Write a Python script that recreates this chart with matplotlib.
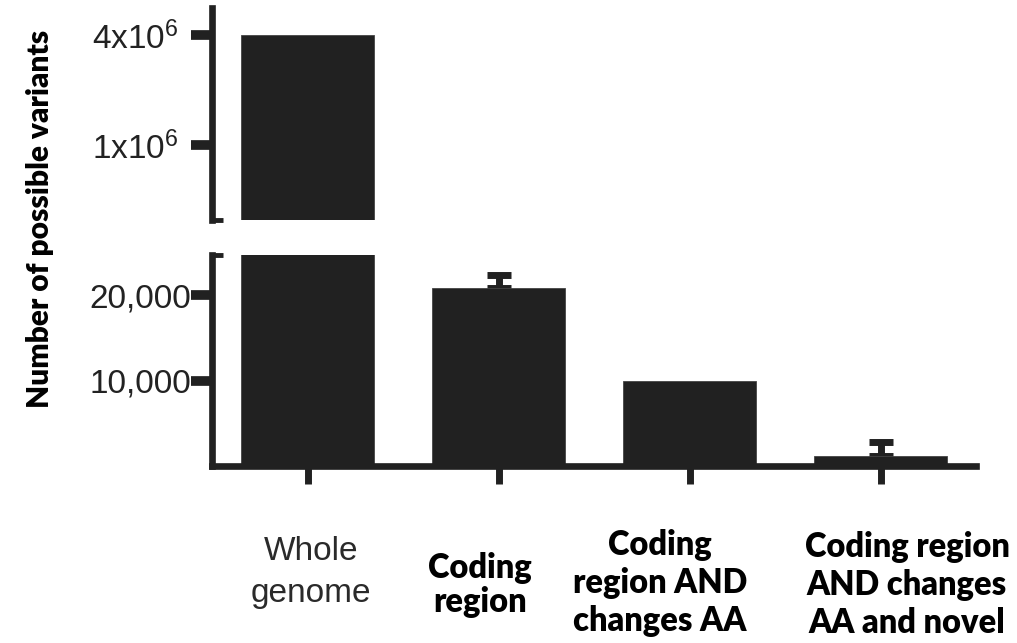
import numpy as np
import matplotlib
matplotlib.use('Agg')
import matplotlib.pyplot as plt
from matplotlib.ticker import NullLocator

# datos del grafico
categorias = ['Whole\ngenome', 'Coding\nregion', 'Coding\nregion AND\nchanges AA',
              'Coding region\nAND changes\nAA and novel']
variantes = [4.0e6, 20800, 10000, 1200]
error_sup = [0, 1500, 0, 1550]
ticks_sup = [1e6, 4e6]
etiquetas_sup = ['1x10$^{6}$', '4x10$^{6}$']
ticks_inf = [10000, 20000]
etiquetas_inf = ['10,000', '20,000']

W, H = 1017, 643
NEGRO = '#212121'
plt.rcParams['mathtext.fontset'] = 'custom'
plt.rcParams['mathtext.rm'] = 'Liberation Sans'
plt.rcParams['mathtext.default'] = 'rm'

fig = plt.figure(figsize=(W / 100, H / 100), dpi=100)


def caja(x0, y0, x1, y1):
    # rectangulo en pixeles (origen arriba) -> coordenadas de figura
    return [x0 / W, 1 - y1 / H, (x1 - x0) / W, (y1 - y0) / H]


ax_sup = fig.add_axes(caja(212, 8, 976, 220))
ax_inf = fig.add_axes(caja(212, 255, 976, 466))

x = np.arange(len(categorias))
for ax in (ax_sup, ax_inf):
    ax.bar(x, variantes, width=0.7, color=NEGRO, edgecolor='#444444',
           linewidth=0.6, zorder=2)
    ax.set_xlim(-0.5, 3.5)
    ax.spines['top'].set_visible(False)
    ax.spines['right'].set_visible(False)
    ax.spines['left'].set_linewidth(4.8)
    ax.spines['left'].set_color(NEGRO)
    ax.spines['left'].set_zorder(3)
    ax.patch.set_alpha(0)

# panel superior (escala log)
ax_sup.set_yscale('log')
ax_sup.set_ylim(3.886e5, 5.62e6)
ax_sup.spines['bottom'].set_visible(False)
ax_sup.set_xticks([])
ax_sup.yaxis.set_minor_locator(NullLocator())
ax_sup.set_yticks(ticks_sup)
ax_sup.set_yticklabels(etiquetas_sup)
ax_sup.tick_params(axis='y', direction='out', length=15, width=7, color=NEGRO,
                   pad=9, labelsize=24, labelcolor='#222222')
for t in ax_sup.get_yticklabels():
    t.set_family('Liberation Sans')

# panel inferior (lineal)
ax_inf.set_ylim(0, 24680)
ax_inf.spines['bottom'].set_linewidth(4.8)
ax_inf.spines['bottom'].set_color(NEGRO)
ax_inf.spines['bottom'].set_capstyle('projecting')
ax_inf.spines['left'].set_capstyle('projecting')
ax_inf.set_xticks(x)
ax_inf.set_xticklabels([])
ax_inf.tick_params(axis='x', direction='out', length=13, width=5, color=NEGRO)
ax_inf.set_yticks(ticks_inf)
ax_inf.set_yticklabels(etiquetas_inf)
ax_inf.tick_params(axis='y', direction='out', length=15, width=7, color=NEGRO,
                   pad=0, labelsize=24, labelcolor='#222222')
for t in ax_inf.get_yticklabels():
    t.set_family('Liberation Sans')

# barras de error (solo hacia arriba)
err = np.array(error_sup, dtype=float)
m = err > 0
ax_inf.errorbar(x[m], np.array(variantes)[m], yerr=[np.zeros(m.sum()), err[m]],
                fmt='none', ecolor=NEGRO, elinewidth=5, capsize=8.3,
                capthick=5, zorder=1)

# marcas del corte del eje
ax_sup.plot([0, 0.015], [0, 0], transform=ax_sup.transAxes, clip_on=False,
            lw=3.5, color=NEGRO, solid_capstyle='butt')
ax_inf.plot([0, 0.015], [1, 1], transform=ax_inf.transAxes, clip_on=False,
            lw=3.5, color=NEGRO, solid_capstyle='butt')

fig.text(40 / W, 1 - 219 / H, 'Number of possible variants', rotation=90,
         ha='center', va='center', fontsize=21.5, fontweight='heavy',
         family='Lato', color='black')

# etiquetas de categoria: (centro x, primera linea base, paso) en pixeles
pos_etiquetas = [(311, 560, 42), (480, 578, 34), (660, 555, 38), (907, 557, 38)]
for i, (texto, (cx, base, paso)) in enumerate(zip(categorias, pos_etiquetas)):
    for j, linea in enumerate(texto.split('\n')):
        if i == 0:
            fig.text(cx / W, 1 - (base + j * paso) / H, linea, ha='center',
                     va='baseline', fontsize=24, family='Liberation Sans',
                     color='#2a2a2a')
        else:
            fig.text(cx / W, 1 - (base + j * paso) / H, linea, ha='center',
                     va='baseline', fontsize=23.5, fontweight='heavy',
                     family='Lato', color='black')

fig.savefig('out.png', dpi=100)
